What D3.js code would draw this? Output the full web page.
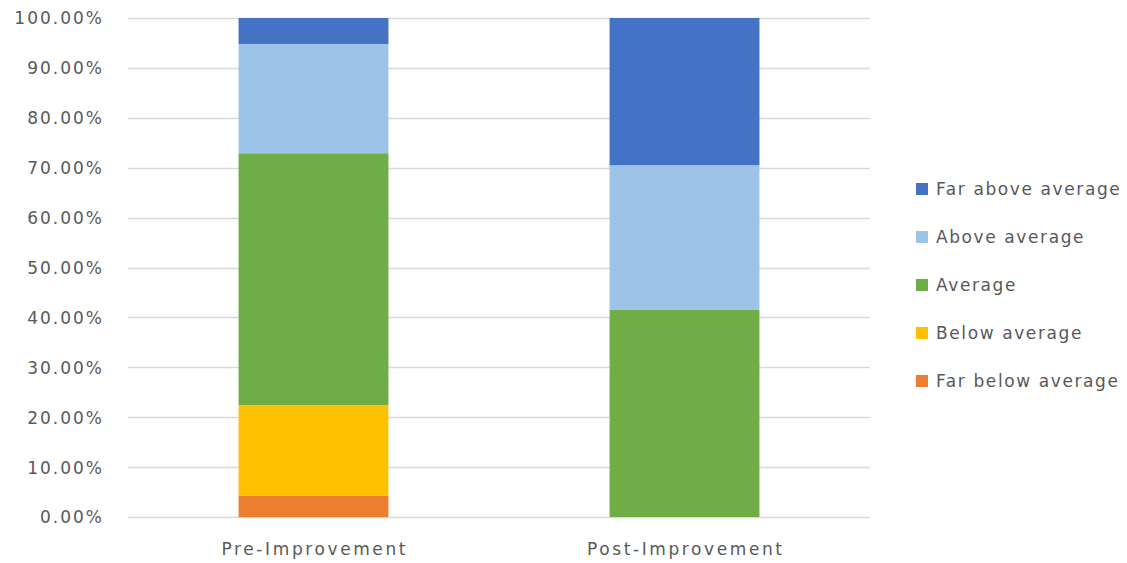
<!DOCTYPE html>
<html><head><meta charset="utf-8">
<script src="https://cdn.jsdelivr.net/npm/d3@7"></script>
<style>body{margin:0;background:#fff}text{font-family:"DejaVu Sans",sans-serif;fill:#595959}</style>
</head><body><svg id="c" width="1127" height="563"></svg>
<script>
const categories = ["Pre-Improvement", "Post-Improvement"];
const seriesNames = ["Far below average", "Below average", "Average", "Above average", "Far above average"];
const farBelow = [4.3, 0];
const below = [18.1, 0];
const average = [50.5, 41.5];
const above = [21.9, 29.0];
const farAbove = [5.2, 29.5];
const yTicks = [0, 10, 20, 30, 40, 50, 60, 70, 80, 90, 100];
const colors = ["#ED7D31", "#FFC000", "#70AD47", "#9DC3E6", "#4472C4"];

const seriesVals = [farBelow, below, average, above, farAbove];
const table = categories.map((c, i) => {
  const o = {cat: c};
  seriesNames.forEach((s, j) => o[s] = seriesVals[j][i]);
  return o;
});
const stacked = d3.stack().keys(seriesNames)(table);

const svg = d3.select("#c");
const m = {left: 128, right: 257, top: 18, bottom: 46};
const W = 1127, H = 563;
const FS = 17;
const FF = "DejaVu Sans";
const x = d3.scaleBand().domain(categories).range([m.left, W - m.right]).paddingInner(0).paddingOuter(0);
const y = d3.scaleLinear().domain([0, 100]).range([H - m.bottom, m.top]);
const barW = x.bandwidth() * 0.404;

// gridlines
svg.append("g").selectAll("line").data(yTicks).join("line")
  .attr("x1", m.left).attr("x2", W - m.right)
  .attr("y1", d => Math.round(y(d)) + 0.5).attr("y2", d => Math.round(y(d)) + 0.5)
  .attr("stroke", "#d9d9d9").attr("stroke-width", 1.5);

// y labels
const yAxis = d3.axisLeft(y).tickValues(yTicks).tickFormat(d => d.toFixed(2) + "%").tickSize(0).tickPadding(0);
const ya = svg.append("g").attr("transform", `translate(104,0)`).call(yAxis);
ya.select(".domain").remove();
ya.selectAll("text").attr("font-size", FS).attr("font-family", FF).attr("fill", "#595959")
  .attr("dy", "0.35em").attr("letter-spacing", 2);

// bars
svg.append("g").selectAll("g").data(stacked).join("g")
  .attr("fill", (d, i) => colors[i])
  .selectAll("rect").data(d => d).join("rect")
  .attr("x", d => x(d.data.cat) + (x.bandwidth() - barW) / 2)
  .attr("width", barW)
  .attr("y", d => y(d[1]))
  .attr("height", d => y(d[0]) - y(d[1]));

// x labels
const xAxis = d3.axisBottom(x).tickSize(0).tickPadding(0);
const xa = svg.append("g").attr("transform", `translate(0,${H - m.bottom})`).call(xAxis);
xa.select(".domain").remove();
xa.selectAll("text").attr("font-size", FS).attr("font-family", FF).attr("fill", "#595959")
  .attr("dy", "0").attr("y", 38).attr("x", 1.3).attr("letter-spacing", 2.6);

// legend
const legendOrder = seriesNames.slice().reverse();
const lg = svg.append("g").selectAll("g").data(legendOrder).join("g")
  .attr("transform", (d, i) => `translate(916,${189 + i * 48})`);
lg.append("rect").attr("x", 0).attr("y", -6).attr("width", 12).attr("height", 12)
  .attr("fill", d => colors[seriesNames.indexOf(d)]);
lg.append("text").attr("x", 20).attr("dy", "0.35em").attr("font-size", FS)
  .attr("letter-spacing", 1.6).text(d => d);
</script></body></html>
